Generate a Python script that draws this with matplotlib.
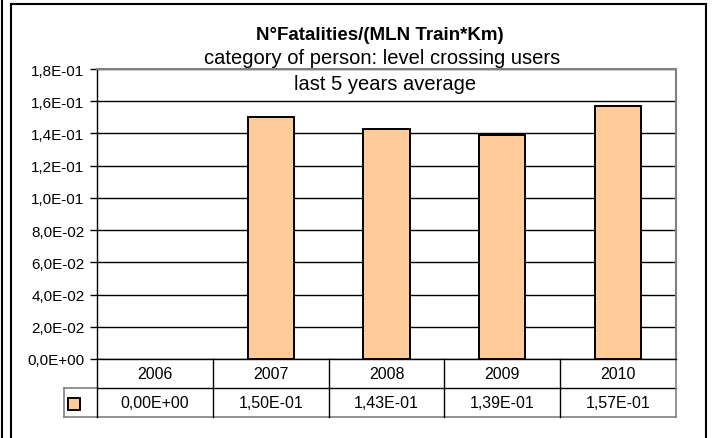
import numpy as np
import matplotlib.pyplot as plt
from matplotlib.lines import Line2D
from matplotlib.ticker import FuncFormatter

years = ['2006', '2007', '2008', '2009', '2010']
fatalities = [0.0, 0.150, 0.143, 0.139, 0.157]

title = 'N°Fatalities/(MLN Train*Km)'
subtitle = 'category of person: level crossing users'
subtitle2 = 'last 5 years average'

bar_color = '#FFCC99'
W, H = 712, 439

plt.rcParams['font.family'] = ['Liberation Sans', 'DejaVu Sans']
plt.rcParams['font.size'] = 11

fig = plt.figure(figsize=(W / 100, H / 100), dpi=100)

# plot area in pixels: x 97..676, y 70..360
ax = fig.add_axes([97 / W, (H - 360) / H, (676 - 97) / W, 290 / H])

ind = np.arange(len(years))
edge_w = [0 if v == 0 else 1.4 for v in fatalities]
ax.bar(ind, fatalities, width=0.4, color=bar_color, edgecolor='black',
       linewidth=edge_w, zorder=3)

ax.set_xlim(-0.5, len(years) - 0.5)
ax.set_ylim(0, 0.18)
ax.set_yticks(np.arange(0, 0.181, 0.02))
ax.yaxis.set_major_formatter(FuncFormatter(lambda v, p: f'{v:.1E}'.replace('.', ',')))
ax.set_xticks([])
ax.grid(axis='y', color='black', linewidth=1, zorder=1)
ax.tick_params(axis='y', direction='out', length=5, width=1, labelsize=11, pad=4)

for s in ['top', 'right']:
    ax.spines[s].set_color('#808080')
    ax.spines[s].set_linewidth(1.5)
ax.spines['left'].set_linewidth(1)
ax.spines['bottom'].set_linewidth(1)

# data table under the axis
tr = ax.get_xaxis_transform()
leg_left = -0.5 - 33 / 115.8
kw = dict(transform=tr, clip_on=False)
ax.plot([-0.5, 4.5], [-0.1, -0.1], color='black', lw=1, **kw)
ax.plot([leg_left, -0.5], [-0.1, -0.1], color='#808080', lw=1.2, **kw)
ax.plot([leg_left, 4.5], [-0.2, -0.2], color='#808080', lw=1.2, **kw)
ax.plot([leg_left, leg_left], [-0.1, -0.2], color='#808080', lw=1.2, **kw)
ax.plot([4.5, 4.5], [0, -0.2], color='#808080', lw=1.2, **kw)
for xb in np.arange(-0.5, 4.0, 1.0):
    ax.plot([xb, xb], [0, -0.2], color='black', lw=1, **kw)

for i, (yr, v) in enumerate(zip(years, fatalities)):
    ax.text(i, -0.05, yr, transform=tr, ha='center', va='center', fontsize=11.5)
    ax.text(i, -0.15, f'{v:.2E}'.replace('.', ','), transform=tr,
            ha='center', va='center', fontsize=11.5)

ax.plot([-0.5 - 23.5 / 115.8], [-0.155], marker='s', markersize=8,
        markerfacecolor=bar_color, markeredgecolor='black', markeredgewidth=1.4, **kw)

# titles
fig.text(380 / W, 1 - 40 / H, title, ha='center', va='baseline',
         fontsize=13.5, fontweight='bold')
fig.text(382 / W, 1 - 64 / H, subtitle, ha='center', va='baseline', fontsize=14.5)
fig.text(385 / W, 1 - 90 / H, subtitle2, ha='center', va='baseline', fontsize=14.5,
         zorder=5)

# chart frame
def hline(x0, x1, y, **k):
    fig.add_artist(Line2D([x0 / W, x1 / W], [1 - y / H, 1 - y / H], **k))

def vline(x, y0, y1, **k):
    fig.add_artist(Line2D([x / W, x / W], [1 - y0 / H, 1 - y1 / H], **k))

vline(2, 0, H, color='black', lw=1.5)
vline(10.5, 4.5, H, color='black', lw=1.5)
vline(706, 4.5, H, color='black', lw=1.5)
hline(10.5, 706, 4.5, color='black', lw=1.5)

fig.savefig('out.png', dpi=100)
